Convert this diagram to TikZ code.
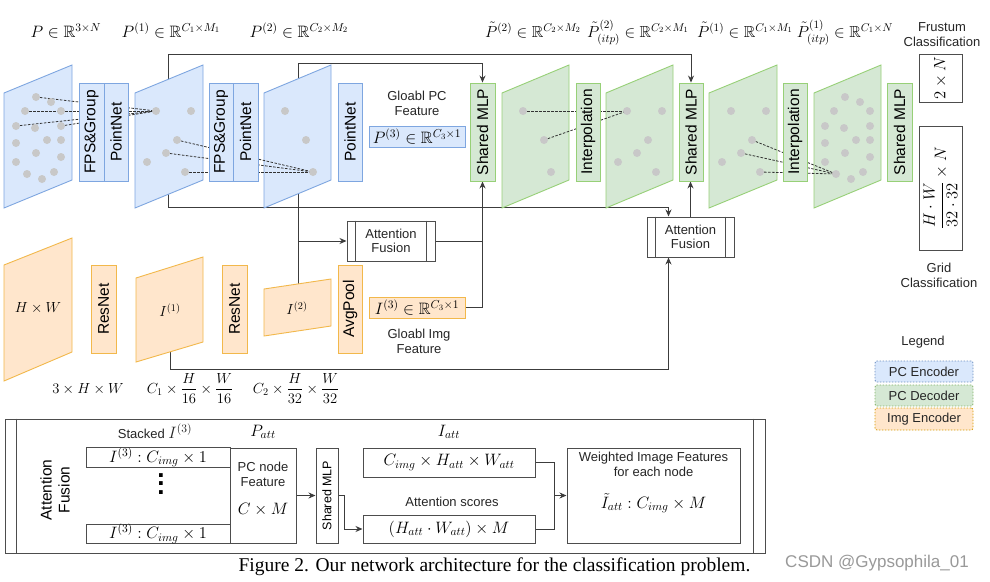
\documentclass[tikz,border=0pt]{standalone}
\usepackage{fix-cm}
\usepackage{amsmath,amssymb}
\usepackage[no-math]{fontspec}
\setmainfont{Liberation Sans}
\newfontfamily\capserif{Liberation Serif}
\usepackage{graphicx}
\usetikzlibrary{arrows.meta}
\pgfdeclarelayer{back}
\pgfdeclarelayer{bg}
\pgfsetlayers{back,bg,main}
\definecolor{bfill}{HTML}{DAE8FC}
\definecolor{bstroke}{HTML}{7EA6E0}
\definecolor{gfill}{HTML}{D5E8D4}
\definecolor{gstroke}{HTML}{97D077}
\definecolor{ofill}{HTML}{FFE6CC}
\definecolor{ostroke}{HTML}{F2B84B}
\definecolor{lc}{HTML}{3C3C3C}
\definecolor{dc}{HTML}{333333}
\definecolor{dotc}{HTML}{C8C8C8}
\definecolor{bc}{HTML}{4D4D4D}
\definecolor{lgb}{HTML}{6C8EBF}
\definecolor{lgg}{HTML}{82B366}
\definecolor{lgo}{HTML}{D79B00}
\begin{document}
\begin{tikzpicture}[x=1pt,y=-1pt,
  conn/.style={draw=lc, line width=1pt, -{Stealth[length=7pt,width=6pt]}},
  lin/.style={draw=lc, line width=1pt},
  dsh/.style={draw=dc, line width=0.8pt, dash pattern=on 2.5pt off 1.5pt},
  bplane/.style={fill=bfill, draw=bstroke, line width=0.9pt},
  gplane/.style={fill=gfill, draw=gstroke, line width=0.9pt},
  oplane/.style={fill=ofill, draw=ostroke, line width=0.9pt},
  vb/.style={rectangle, inner sep=0pt, font=\fontsize{15.5}{18}\selectfont},
  wbox/.style={rectangle, inner sep=0pt, draw=bc, line width=1pt, fill=white},
  tx/.style={font=\fontsize{13}{14.5}\selectfont, align=center, inner sep=0pt, text=black!85},
  mA/.style={font=\fontsize{16.5}{19}\selectfont, inner sep=0pt},
  mT/.style={font=\fontsize{16}{19}\selectfont, inner sep=0pt},
  mB/.style={font=\fontsize{14.6}{17}\selectfont, inner sep=0pt},
  lgbox/.style={tx, rounded corners=2pt, line width=0.8pt, dash pattern=on 1.5pt off 1.5pt, minimum width=98pt}
]
\begin{pgfonlayer}{back}
\fill[white] (0,0) rectangle (990,581);
\end{pgfonlayer}
\useasboundingbox (0,0) rectangle (990,581);

% ---------- planes ----------
\path[bplane] (4,93) -- (72,65) -- (72,180) -- (4,208) -- cycle;
\path[bplane] (135,93) -- (203,65) -- (203,180) -- (135,208) -- cycle;
\path[bplane] (264,93) -- (331,65) -- (331,180) -- (264,208) -- cycle;
\path[gplane] (502,93) -- (569,65) -- (569,180) -- (502,208) -- cycle;
\path[gplane] (606,93) -- (673,65) -- (673,180) -- (606,208) -- cycle;
\path[gplane] (709,93) -- (777,65) -- (777,180) -- (709,208) -- cycle;
\path[gplane] (814,93) -- (881,65) -- (881,180) -- (814,208) -- cycle;
\path[oplane] (4,265) -- (72,238) -- (72,352) -- (4,381) -- cycle;
\path[oplane] (136,278) -- (203,257) -- (203,342) -- (136,362) -- cycle;
\path[oplane] (264,289) -- (331,279) -- (331,326) -- (264,336) -- cycle;

% ---------- point clouds ----------
\foreach \n/\x/\y in {1/36/97,2/51/102,3/25/111,4/61/111,5/16/126,6/35/128,7/61/126,8/16/143,9/47/140,10/61/140,11/36/153,12/61/157,13/16/162,14/27/174,15/54/172,16/42/179}{
  \coordinate (p\n) at (\x,\y);
  \coordinate (m\n) at (\x+809,\y);
}
\foreach \n/\x/\y in {1/156/111,2/191/111,3/177/140,4/166/153,5/147/162,6/185/172}{
  \coordinate (q\n) at (\x,\y);
  \coordinate (h\n) at (\x+471,\y);
  \coordinate (k\n) at (\x+575,\y);
}
\foreach \n/\x/\y in {1/285/111,2/306/140,3/313/172}{
  \coordinate (r\n) at (\x,\y);
  \coordinate (g\n) at (\x+238,\y);
}
\foreach \s in {p1,p3,p5,p7} \draw[dsh] (\s) -- (q1);
\foreach \s in {q3,q4,q6} \draw[dsh] (\s) -- (r3);
\foreach \s in {g1,g2} \draw[dsh] (\s) -- (h1);
\foreach \s in {k3,k4,k6} \draw[dsh] (\s) -- (m14);
\foreach \n in {1,...,16} {\fill[dotc] (p\n) circle (4pt); \fill[dotc] (m\n) circle (4pt);}
\foreach \n in {1,...,6} {\fill[dotc] (q\n) circle (4pt); \fill[dotc] (h\n) circle (4pt); \fill[dotc] (k\n) circle (4pt);}
\foreach \n in {1,2,3} {\fill[dotc] (r\n) circle (4pt); \fill[dotc] (g\n) circle (4pt);}

% ---------- boxes: PC encoder ----------
\node[vb, bplane, minimum width=25pt, minimum height=98pt] (fps1) at (91.5,132) {\rotatebox{90}{FPS\&Group}};
\node[vb, bplane, minimum width=24pt, minimum height=98pt] (pn1) at (116,132) {\rotatebox{90}{PointNet}};
\node[vb, bplane, minimum width=24pt, minimum height=98pt] (fps2) at (221,132) {\rotatebox{90}{FPS\&Group}};
\node[vb, bplane, minimum width=25pt, minimum height=98pt] (pn2) at (245.5,132) {\rotatebox{90}{PointNet}};
\node[vb, bplane, minimum width=24pt, minimum height=98pt] (pn3) at (350,132) {\rotatebox{90}{PointNet}};
\node[mA, bplane, minimum width=96pt, minimum height=21pt] (p3) at (417,136.5) {$P^{(3)}\in\mathbb{R}^{C_3\times 1}$};
\node[tx] (gpc) at (417,103.5) {Gloabl PC\\Feature};

% ---------- boxes: PC decoder ----------
\node[vb, gplane, minimum width=25pt, minimum height=98pt] (mlp1) at (482.5,132) {\rotatebox{90}{Shared MLP}};
\node[vb, gplane, minimum width=24pt, minimum height=98pt] (itp1) at (588,132) {\rotatebox{90}{Interpolation}};
\node[vb, gplane, minimum width=24pt, minimum height=98pt] (mlp2) at (691,132) {\rotatebox{90}{Shared MLP}};
\node[vb, gplane, minimum width=24pt, minimum height=98pt] (itp2) at (795,132) {\rotatebox{90}{Interpolation}};
\node[vb, gplane, minimum width=25pt, minimum height=98pt] (mlp3) at (899.5,132) {\rotatebox{90}{Shared MLP}};

% ---------- classification ----------
\node[wbox, mA, minimum width=43pt, minimum height=48pt] (cls1) at (940.5,78) {\rotatebox{90}{$2\times N$}};
\node[wbox, mA, minimum width=43pt, minimum height=124pt] (cls2) at (940.5,188) {\rotatebox{90}{$\dfrac{H\cdot W}{32\cdot 32}\times N$}};
\node[tx] (frus) at (942,34.5) {Frustum\\Classification};
\node[tx] (grid) at (939,275.5) {Grid\\Classification};

% ---------- image encoder ----------
\node[vb, oplane, minimum width=25pt, minimum height=88pt] (res1) at (103.5,309) {\rotatebox{90}{ResNet}};
\node[vb, oplane, minimum width=25pt, minimum height=88pt] (res2) at (234.5,309) {\rotatebox{90}{ResNet}};
\node[vb, oplane, minimum width=24pt, minimum height=88pt] (avg) at (350,309) {\rotatebox{90}{AvgPool}};
\node[mA, oplane, minimum width=96pt, minimum height=21pt] (i3) at (417,307.5) {$I^{(3)}\in\mathbb{R}^{C_3\times 1}$};
\node[tx] (gimg) at (419,341.5) {Gloabl Img\\Feature};
\node[mB] (hw) at (38,308) {$H\times W$};
\node[mB] (i1) at (170,310) {$I^{(1)}$};
\node[mB] (i2) at (297,308) {$I^{(2)}$};
\node[mB, anchor=base] (d0) at (88,393) {$3\times H\times W$};
\node[mB, anchor=base] (d1) at (190,393) {$C_1\times\dfrac{H}{16}\times\dfrac{W}{16}$};
\node[mB, anchor=base] (d2) at (296,393) {$C_2\times\dfrac{H}{32}\times\dfrac{W}{32}$};

% ---------- attention fusion boxes ----------
\node[wbox, tx, minimum width=88pt, minimum height=40pt] (af1) at (391,241) {Attention\\Fusion};
\draw[bc, line width=1pt] ([xshift=9pt]af1.north west) -- ([xshift=9pt]af1.south west);
\draw[bc, line width=1pt] ([xshift=-9pt]af1.north east) -- ([xshift=-9pt]af1.south east);
\node[wbox, tx, minimum width=87pt, minimum height=40pt] (af2) at (690.5,237) {Attention\\Fusion};
\draw[bc, line width=1pt] ([xshift=9pt]af2.north west) -- ([xshift=9pt]af2.south west);
\draw[bc, line width=1pt] ([xshift=-9pt]af2.north east) -- ([xshift=-9pt]af2.south east);

% ---------- top labels ----------
\node[mA, anchor=base] (l0) at (66,37) {$P\in\mathbb{R}^{3\times N}$};
\node[mA, anchor=base] (l1) at (171,37) {$P^{(1)}\in\mathbb{R}^{C_1\times M_1}$};
\node[mA, anchor=base] (l2) at (299,37) {$P^{(2)}\in\mathbb{R}^{C_2\times M_2}$};
\node[mT, anchor=base] (l3) at (533,37) {$\tilde{P}^{(2)}\in\mathbb{R}^{C_2\times M_2}$};
\node[mT, anchor=base] (l4) at (638,37) {$\tilde{P}^{(2)}_{(itp)}\in\mathbb{R}^{C_2\times M_1}$};
\node[mT, anchor=base] (l5) at (745,37) {$\tilde{P}^{(1)}\in\mathbb{R}^{C_1\times M_1}$};
\node[mT, anchor=base] (l6) at (845,37) {$\tilde{P}^{(1)}_{(itp)}\in\mathbb{R}^{C_1\times N}$};

% ---------- legend ----------
\node[tx] (leg) at (923,342) {Legend};
\node[lgbox, fill=bfill, draw=lgb, minimum height=21pt] (lg1) at (924,371.5) {PC Encoder};
\node[lgbox, fill=gfill, draw=lgg, minimum height=21pt] (lg2) at (924,395.5) {PC Decoder};
\node[lgbox, fill=ofill, draw=lgo, minimum height=22pt] (lg3) at (924,419) {Img Encoder};

% ---------- connectors (behind planes) ----------
\begin{pgfonlayer}{bg}
\coordinate (P1src) at (168,130);
\coordinate (I2top) at (298,284);
\coordinate (I1bot) at (170,352);
\draw[conn] (P1src) -- (168,54) -| (mlp2.north);
\draw[conn] (P1src) -- (168,207) -| ([xshift=22pt]af2.north west);
\draw[conn] (I2top) -- (298,63) -| (mlp1.north);
\draw[conn] (298,241) -- (af1.west);
\draw[lin] (af1.east) -- (af1.east -| mlp1.south);
\draw[conn] (i3.east) -| (mlp1.south);
\draw[conn] (I1bot) -- (170,369) -| ([xshift=22pt]af2.south west);
\draw[conn] (af2.north) -- (af2.north |- mlp2.south);
\end{pgfonlayer}

% ---------- bottom attention fusion panel ----------
\node[wbox, minimum width=760pt, minimum height=134pt] (afp) at (385,486) {};
\draw[bc, line width=1pt] ([xshift=12pt]afp.north west) -- ([xshift=12pt]afp.south west);
\draw[bc, line width=1pt] ([xshift=-12pt]afp.north east) -- ([xshift=-12pt]afp.south east);
\node[rotate=90, align=center, inner sep=0pt, font=\fontsize{15.5}{18}\selectfont] (aflab) at (55,490) {Attention\\Fusion};
\node[tx] (stk) at (155,431) {Stacked {\fontsize{16.5}{19}\selectfont$I^{(3)}$}};
\node[mA] (patt) at (263,432) {$P_{att}$};
\node[mA] (iatt) at (449,432) {$I_{att}$};
\node[wbox, mA, minimum width=144pt, minimum height=19pt] (s1) at (158,457.5) {$I^{(3)}:C_{img}\times 1$};
\node[wbox, mA, minimum width=144pt, minimum height=18pt] (s2) at (158,534) {$I^{(3)}:C_{img}\times 1$};
\node[align=center, inner sep=0pt, font=\bfseries\fontsize{26}{8.5}\selectfont] (vd) at (161,484) {.\\.\\.};
\node[wbox, minimum width=66pt, minimum height=95pt] (pcf) at (263,495.5) {};
\node[tx] (pcft) at (263,474.5) {PC node\\Feature};
\node[mA] (pcfm) at (263,510) {$C\times M$};
\node[wbox, inner sep=0pt, font=\fontsize{12.5}{14}\selectfont, minimum width=22pt, minimum height=95pt] (smlp) at (327,495.5) {\rotatebox{90}{Shared MLP}};
\node[wbox, mA, minimum width=172pt, minimum height=29pt] (catt) at (449,462.5) {$C_{img}\times H_{att}\times W_{att}$};
\node[tx] (ascr) at (452,502) {Attention scores};
\node[wbox, mA, minimum width=172pt, minimum height=28pt] (hatt) at (449,529) {$(H_{att}\cdot W_{att})\times M$};
\node[wbox, minimum width=173pt, minimum height=95pt] (wif) at (653.5,495.5) {};
\node[tx] (wift) at (653.5,464.5) {Weighted Image Features\\for each node};
\node[mA] (wifm) at (653.5,503) {$\tilde{I}_{att}:C_{img}\times M$};
\coordinate (jn) at (554,495.5);
\draw[conn] (pcf.east) -- (smlp.west);
\draw[conn] (smlp.east) -- ++(6,0) |- (hatt.west);
\draw[lin] (catt.east) -| (jn);
\draw[lin] (hatt.east) -| (jn);
\draw[conn] (jn) -- (wif.west);

% ---------- caption & watermark ----------
\node[anchor=base, inner sep=0pt, font=\capserif\fontsize{19.5}{22}\selectfont] (cap) at (494.5,571) {Figure 2. Our network architecture for the classification problem.};
\node[anchor=base, inner sep=0pt, text=black!40, font=\fontsize{17}{19}\selectfont] (wm) at (877,567) {CSDN @Gypsophila\_01};
\end{tikzpicture}
\end{document}
